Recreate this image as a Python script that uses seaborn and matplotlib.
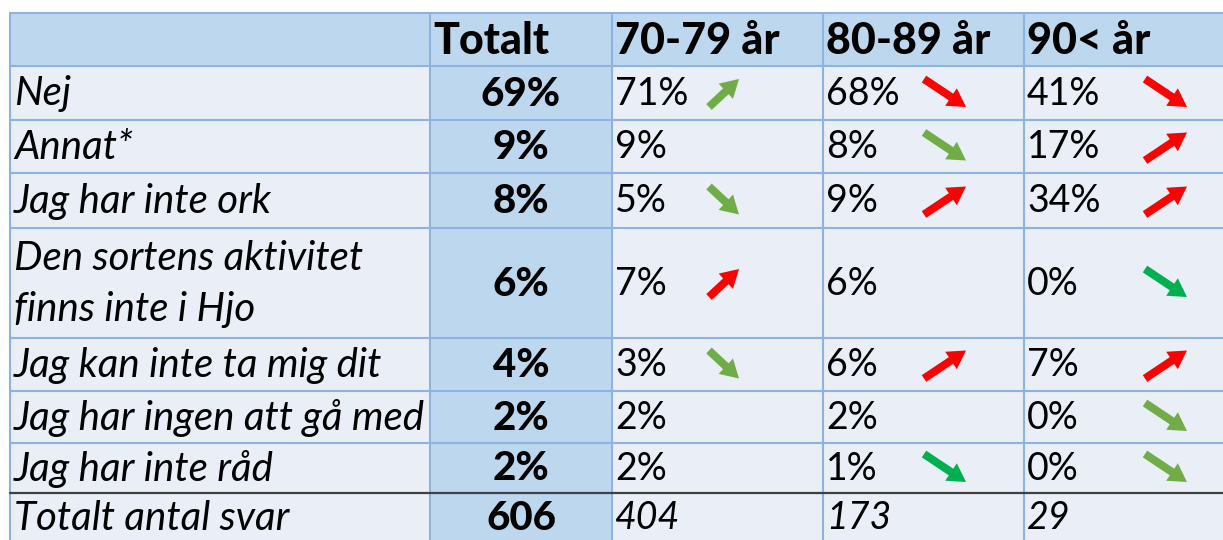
import numpy as np
import pandas as pd
import seaborn as sns
from matplotlib import pyplot as plt
from matplotlib.patches import Rectangle

# table content
headers = ["Totalt", "70-79 år", "80-89 år", "90< år"]
reasons = ["Nej", "Annat*", "Jag har inte ork", "Den sortens aktivitet\nfinns inte i Hjo",
           "Jag kan inte ta mig dit", "Jag har ingen att gå med", "Jag har inte råd"]
totalt = [69, 9, 8, 6, 4, 2, 2]
age_70 = [71, 9, 5, 7, 3, 2, 2]
age_80 = [68, 8, 9, 6, 6, 2, 1]
age_90 = [41, 17, 34, 0, 7, 0, 0]
svar_label = "Totalt antal svar"
svar = [606, 404, 173, 29]

# trend arrows per age column: "up"/"down"/"" and colour key
dir_70 = ["up", "", "down", "up", "down", "", ""]
col_70 = ["lg", "", "lg", "r", "lg", "", ""]
dir_80 = ["down", "down", "up", "", "up", "", "down"]
col_80 = ["r", "lg", "r", "", "r", "", "dg"]
dir_90 = ["down", "up", "up", "down", "up", "down", "down"]
col_90 = ["r", "r", "r", "dg", "r", "lg", "lg"]

arrow_colors = {"lg": "#70AD47", "dg": "#00B050", "r": "#FF0000"}

sns.set_style("white")
plt.rcParams['font.family'] = ['Lato', 'DejaVu Sans']

fig = plt.figure(figsize=(12.23, 5.40), dpi=100)
ax = fig.add_axes([0, 0, 1, 1])
ax.set_xlim(0, 1223)
ax.set_ylim(540, 0)
ax.axis("off")

x_edges = [10, 430, 612, 823, 1024, 1240]
y_edges = [13, 66, 120, 173, 228, 338, 391, 443, 493, 560]
light = "#E9EEF7"
blue = "#BDD7EE"
grid = "#8DB3E2"

# cell backgrounds
for r in range(len(y_edges) - 1):
    for c in range(len(x_edges) - 1):
        fc = blue if (r == 0 or c == 1) else light
        ax.add_patch(Rectangle((x_edges[c], y_edges[r]), x_edges[c + 1] - x_edges[c],
                               y_edges[r + 1] - y_edges[r], facecolor=fc, edgecolor="none"))
for x in x_edges[:-1]:
    ax.plot([x, x], [y_edges[0], 540], color=grid, lw=1.5)
for y in y_edges[:-1]:
    if y == 493:
        ax.plot([x_edges[0], 1223], [y, y], color="#404040", lw=1.6)
    else:
        ax.plot([x_edges[0], 1223], [y, y], color=grid, lw=1.5)

fs = 27
cy = [(y_edges[i] + y_edges[i + 1]) / 2 for i in range(len(y_edges) - 1)]

# header
for c, h in enumerate(headers):
    ax.text(x_edges[c + 1] + 3, cy[0] + 2, h, fontsize=31, fontweight="black", va="center",
            ha="left", color="black")

age_cols = [age_70, age_80, age_90]
dirs = [dir_70, dir_80, dir_90]
cols = [col_70, col_80, col_90]
arrow_cx = [724, 945, 1166]
arrow_dx = [30, 42, 42]

for i, lab in enumerate(reasons):
    y = cy[i + 1]
    ax.text(14, y + 1, lab, fontsize=29, fontstyle="italic", va="center", ha="left",
            linespacing=1.45, color="black")
    ax.text((x_edges[1] + x_edges[2]) / 2, y + 1, f"{totalt[i]}%", fontsize=29, fontweight="black",
            va="center", ha="center", color="black")
    for c in range(3):
        ax.text(x_edges[c + 2] + 3, y + 1, f"{age_cols[c][i]}%", fontsize=fs, va="center",
                ha="left", color="black")
        d = dirs[c][i]
        if d:
            dx = arrow_dx[c]
            dy = 28 if d == "down" else -28
            x0 = arrow_cx[c] - dx / 2
            y0 = y - dy / 2
            ax.arrow(x0, y0, dx, dy, width=8, head_width=21, head_length=18,
                     length_includes_head=True, color=arrow_colors[cols[c][i]], lw=0)

# bottom row (kept just inside the lower edge)
yb = 518
ax.text(14, yb, svar_label, fontsize=29, fontstyle="italic", va="center", ha="left", color="black")
ax.text((x_edges[1] + x_edges[2]) / 2, yb, str(svar[0]), fontsize=29, fontweight="black",
        va="center", ha="center", color="black")
for c in range(3):
    ax.text(x_edges[c + 2] + 3, yb, str(svar[c + 1]), fontsize=fs, fontstyle="italic",
            va="center", ha="left", color="black")

fig.savefig("out.png", dpi=100)
